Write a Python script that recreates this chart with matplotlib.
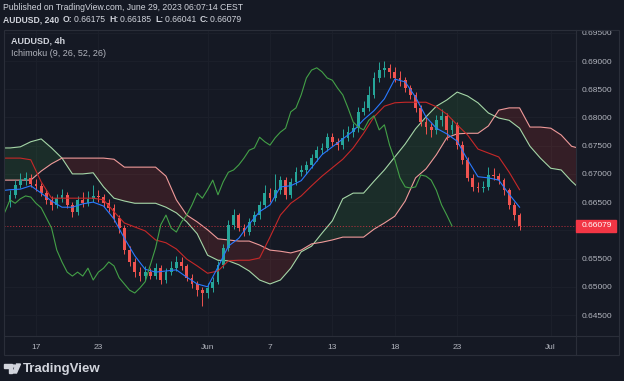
import numpy as np
import pandas as pd
import matplotlib
matplotlib.use('Agg')
import matplotlib.pyplot as plt
from matplotlib.patches import Rectangle, Polygon, Circle
from matplotlib.transforms import Bbox, TransformedBbox

# Размер картинки в пикселях
W, H = 624, 381

# AUDUSD, 8-часовые свечи (по 2 бара 4h), с 15 мая 2023 08:00
opens = [0.6650, 0.6663, 0.6680, 0.6689, 0.6693, 0.6682, 0.6679, 0.6666, 0.6654, 0.6645,
         0.6657, 0.6663, 0.6645, 0.6632, 0.6654, 0.6648, 0.6656, 0.6661, 0.6659, 0.6648,
         0.6640, 0.6622, 0.6604, 0.6565, 0.6544, 0.6526, 0.6519, 0.6526, 0.6519, 0.6533,
         0.6512, 0.6526, 0.6533, 0.6544, 0.6537, 0.6516, 0.6505, 0.6494, 0.6489, 0.6498,
         0.6509, 0.6539, 0.6569, 0.6610, 0.6627, 0.6604, 0.6597, 0.6615, 0.6627, 0.6645,
         0.6666, 0.6657, 0.6672, 0.6689, 0.6663, 0.6686, 0.6703, 0.6707, 0.6716, 0.6728,
         0.6742, 0.6746, 0.6765, 0.6757, 0.6751, 0.6764, 0.6774, 0.6781, 0.6810, 0.6817,
         0.6840, 0.6870, 0.6884, 0.6888, 0.6881, 0.6870, 0.6866, 0.6852, 0.6840, 0.6817,
         0.6792, 0.6783, 0.6778, 0.6795, 0.6803, 0.6778, 0.6787, 0.6751, 0.6725, 0.6693,
         0.6677, 0.6675, 0.6677, 0.6698, 0.6696, 0.6689, 0.6671, 0.6645, 0.6627]
highs = [0.6672, 0.6690, 0.6702, 0.6703, 0.6699, 0.6691, 0.6684, 0.6672, 0.6660, 0.6665,
         0.6674, 0.6668, 0.6650, 0.6661, 0.6668, 0.6670, 0.6680, 0.6672, 0.6665, 0.6655,
         0.6646, 0.6628, 0.6610, 0.6572, 0.6551, 0.6535, 0.6536, 0.6533, 0.6542, 0.6538,
         0.6534, 0.6545, 0.6555, 0.6552, 0.6541, 0.6522, 0.6510, 0.6500, 0.6506, 0.6517,
         0.6545, 0.6575, 0.6618, 0.6637, 0.6630, 0.6612, 0.6622, 0.6634, 0.6652, 0.6680,
         0.6675, 0.6700, 0.6696, 0.6694, 0.6693, 0.6712, 0.6716, 0.6722, 0.6735, 0.6750,
         0.6755, 0.6773, 0.6772, 0.6763, 0.6780, 0.6785, 0.6790, 0.6818, 0.6830, 0.6855,
         0.6880, 0.6899, 0.6900, 0.6895, 0.6890, 0.6882, 0.6872, 0.6858, 0.6846, 0.6822,
         0.6800, 0.6790, 0.6805, 0.6815, 0.6808, 0.6798, 0.6792, 0.6758, 0.6730, 0.6700,
         0.6685, 0.6688, 0.6712, 0.6710, 0.6702, 0.6693, 0.6675, 0.6650, 0.6630]
lows = [0.6641, 0.6658, 0.6675, 0.6681, 0.6676, 0.6670, 0.6660, 0.6647, 0.6636, 0.6640,
        0.6650, 0.6640, 0.6624, 0.6628, 0.6642, 0.6644, 0.6650, 0.6651, 0.6641, 0.6632,
        0.6615, 0.6596, 0.6558, 0.6537, 0.6518, 0.6510, 0.6512, 0.6513, 0.6514, 0.6505,
        0.6507, 0.6520, 0.6528, 0.6530, 0.6510, 0.6497, 0.6484, 0.6466, 0.6480, 0.6490,
        0.6505, 0.6533, 0.6563, 0.6603, 0.6598, 0.6590, 0.6592, 0.6610, 0.6620, 0.6640,
        0.6650, 0.6652, 0.6665, 0.6655, 0.6658, 0.6680, 0.6696, 0.6700, 0.6710, 0.6722,
        0.6735, 0.6740, 0.6750, 0.6742, 0.6745, 0.6758, 0.6765, 0.6775, 0.6805, 0.6812,
        0.6835, 0.6862, 0.6872, 0.6870, 0.6862, 0.6855, 0.6845, 0.6832, 0.6810, 0.6785,
        0.6770, 0.6765, 0.6770, 0.6785, 0.6760, 0.6770, 0.6745, 0.6718, 0.6688, 0.6670,
        0.6668, 0.6668, 0.6672, 0.6690, 0.6682, 0.6662, 0.6638, 0.6618, 0.6601]
closes = [0.6663, 0.6680, 0.6689, 0.6693, 0.6682, 0.6679, 0.6666, 0.6654, 0.6645, 0.6657,
          0.6663, 0.6645, 0.6632, 0.6654, 0.6648, 0.6656, 0.6661, 0.6659, 0.6648, 0.6640,
          0.6622, 0.6604, 0.6565, 0.6544, 0.6526, 0.6519, 0.6526, 0.6519, 0.6533, 0.6512,
          0.6526, 0.6533, 0.6544, 0.6537, 0.6516, 0.6505, 0.6494, 0.6489, 0.6498, 0.6509,
          0.6539, 0.6569, 0.6610, 0.6627, 0.6604, 0.6597, 0.6615, 0.6627, 0.6645, 0.6666,
          0.6657, 0.6672, 0.6689, 0.6663, 0.6686, 0.6703, 0.6707, 0.6716, 0.6728, 0.6742,
          0.6746, 0.6765, 0.6757, 0.6751, 0.6764, 0.6774, 0.6781, 0.6810, 0.6817, 0.6840,
          0.6870, 0.6884, 0.6888, 0.6881, 0.6870, 0.6866, 0.6852, 0.6840, 0.6817, 0.6792,
          0.6783, 0.6778, 0.6795, 0.6803, 0.6778, 0.6787, 0.6751, 0.6725, 0.6693, 0.6677,
          0.6675, 0.6677, 0.6698, 0.6696, 0.6689, 0.6671, 0.6645, 0.6627, 0.66079]

# Ишимоку, значения через каждые 2 свечи, начиная с -2
tenkan = [0.6670, 0.6672, 0.6673, 0.6679, 0.6666, 0.6652, 0.6641, 0.6641, 0.6647, 0.6650,
          0.6643, 0.6620, 0.6586, 0.6555, 0.6531, 0.6526, 0.6528, 0.6530, 0.6517, 0.6505,
          0.6500, 0.6535, 0.6572, 0.6586, 0.6611, 0.6633, 0.6645, 0.6677, 0.6679, 0.6688,
          0.6711, 0.6734, 0.6748, 0.6762, 0.6776, 0.6796, 0.6812, 0.6833, 0.6868, 0.6863,
          0.6836, 0.6801, 0.6781, 0.6771, 0.6758, 0.6725, 0.6695, 0.6693, 0.6689, 0.6664,
          0.6641]
kijun = [0.6728, 0.6728, 0.6728, 0.6725, 0.6686, 0.6657, 0.6657, 0.6657, 0.6657, 0.6657,
         0.6654, 0.6633, 0.6613, 0.6606, 0.6599, 0.6583, 0.6578, 0.6567, 0.6549, 0.6537,
         0.6524, 0.6528, 0.6546, 0.6547, 0.6547, 0.6551, 0.6588, 0.6627, 0.6648, 0.6661,
         0.6679, 0.6696, 0.6711, 0.6726, 0.6746, 0.6772, 0.6801, 0.6820, 0.6826, 0.6827,
         0.6827, 0.6827, 0.6819, 0.6806, 0.6787, 0.6769, 0.6744, 0.6737, 0.6730, 0.6703,
         0.6672]
span_a = [0.6746, 0.6746, 0.6748, 0.6757, 0.6762, 0.6746, 0.6728, 0.6700, 0.6700, 0.6702,
          0.6677, 0.6657, 0.6652, 0.6648, 0.6648, 0.6648, 0.6641, 0.6631, 0.6615, 0.6594,
          0.6556, 0.6547, 0.6546, 0.6539, 0.6528, 0.6512, 0.6505, 0.6512, 0.6533, 0.6562,
          0.6572, 0.6595, 0.6617, 0.6656, 0.6666, 0.6666, 0.6687, 0.6707, 0.6730, 0.6753,
          0.6780, 0.6801, 0.6820, 0.6831, 0.6845, 0.6838, 0.6826, 0.6808, 0.6799, 0.6795,
          0.6781, 0.6749, 0.6728, 0.6710, 0.6707, 0.6687, 0.6670, 0.6663]
span_b = [0.6689, 0.6689, 0.6689, 0.6689, 0.6705, 0.6718, 0.6728, 0.6728, 0.6728, 0.6728,
          0.6728, 0.6726, 0.6712, 0.6712, 0.6712, 0.6712, 0.6696, 0.6654, 0.6627, 0.6615,
          0.6601, 0.6585, 0.6583, 0.6581, 0.6581, 0.6574, 0.6565, 0.6563, 0.6560, 0.6565,
          0.6576, 0.6579, 0.6583, 0.6588, 0.6588, 0.6588, 0.6602, 0.6613, 0.6625, 0.6652,
          0.6693, 0.6709, 0.6734, 0.6764, 0.6771, 0.6772, 0.6772, 0.6785, 0.6813, 0.6817,
          0.6817, 0.6783, 0.6783, 0.6781, 0.6769, 0.6749, 0.6744, 0.6742]

last_ohlc = [('O', '0.66175'), ('H', '0.66185'), ('L', '0.66041'), ('C', '0.66079')]
last_price = 0.66079
lag = 13  # 26 баров по 4h = 13 свечей по 8h

# Подписи дат: торговые дни и их подписи
tick_days = ['2023-05-17', '2023-05-23', '2023-06-01', '2023-06-07',
             '2023-06-13', '2023-06-19', '2023-06-23', '2023-07-03']
tick_labels = ['17', '23', 'Jun', '7', '13', '18', '23', 'Jul']
price_ticks = [0.645, 0.650, 0.655, 0.660, 0.665, 0.670, 0.675, 0.680, 0.685, 0.690, 0.695]

# Цвета
bg = '#151924'
grid = '#1c202b'
border = '#2a2e39'
text_col = '#d1d4dc'
axis_text = '#b2b5be'
up_col = '#26a69a'
down_col = '#ef5350'

plt.rcParams['font.family'] = ['Liberation Sans', 'DejaVu Sans']

fig = plt.figure(figsize=(W / 100, H / 100), dpi=100, facecolor=bg)


def fx(px):
    return px / W


def fy(py):
    return 1 - py / H


ax = fig.add_axes([fx(4), fy(336), fx(576) - fx(4), fy(30) - fy(336)])
ax.set_facecolor(bg)
ax.set_xlim(-1.15, 108.85)
ax.set_ylim(0.64128, 0.69550)
for s in ax.spines.values():
    s.set_visible(False)

# Сетка
days = pd.bdate_range('2023-05-15', '2023-07-07')
tick_pos = [3 * days.get_loc(pd.Timestamp(d)) - 1 for d in tick_days]
ax.set_xticks(tick_pos)
ax.set_xticklabels(tick_labels)
ax.set_yticks(price_ticks)
ax.set_yticklabels([f'{p:.5f}' for p in price_ticks])
ax.yaxis.tick_right()
ax.tick_params(axis='x', length=0, pad=5.5, labelsize=6, labelcolor=axis_text)
ax.tick_params(axis='y', length=0, pad=4.3, labelsize=6, labelcolor=axis_text)
ax.grid(True, color=grid, lw=0.7)
ax.set_axisbelow(True)

# Облако
t_span = np.arange(-2, 2 * len(span_a) - 2, 2)
a = np.array(span_a)
b = np.array(span_b)
ax.fill_between(t_span, a, b, where=a >= b, interpolate=True, color='#43a047', alpha=0.15, lw=0)
ax.fill_between(t_span, a, b, where=a < b, interpolate=True, color='#f44336', alpha=0.14, lw=0)
ax.plot(t_span, a, color='#a5d6a7', lw=0.8)
ax.plot(t_span, b, color='#ef9a9a', lw=0.8)

# Свечи
x = np.arange(len(closes))
o = np.array(opens)
c = np.array(closes)
colors = np.where(c >= o, up_col, down_col)
ax.vlines(x, lows, highs, colors=colors, lw=0.7, zorder=3)
body = np.maximum(np.abs(c - o), 0.00008)
ax.bar(x, body, bottom=np.minimum(o, c), width=0.55, color=colors, lw=0, zorder=3)

# Линии
t_line = np.arange(-2, 2 * len(tenkan) - 2, 2)
ax.plot(t_line, kijun, color='#c62828', lw=0.8, zorder=4)
ax.plot(t_line, tenkan, color='#2979ff', lw=0.8, zorder=4)
ax.plot(x - lag, closes, color='#43a047', lw=0.8, zorder=4)

# Текущая цена
ax.axhline(last_price, color='#f23645', lw=0.7, ls=(0, (1, 2)), alpha=0.8, zorder=2)

# Рамка панели
fig.patches.append(Rectangle((fx(4), fy(355)), fx(619) - fx(4), fy(30) - fy(355),
                             transform=fig.transFigure, fill=False, ec=border, lw=0.8))
fig.lines.append(plt.Line2D([fx(4), fx(619)], [fy(336), fy(336)], transform=fig.transFigure,
                            color=border, lw=0.8))
fig.lines.append(plt.Line2D([fx(576), fx(576)], [fy(30), fy(355)], transform=fig.transFigure,
                            color=border, lw=0.8))

# Обрезка верхней метки цены по рамке
panel = TransformedBbox(Bbox([[fx(4), fy(355)], [fx(619), fy(30)]]), fig.transFigure)
for tick in ax.yaxis.get_major_ticks():
    tick.label2.set_clip_box(panel)
    tick.label2.set_clip_on(True)

# Метка последней цены
y_last = ax.transData.transform((0, last_price))[1] / fig.bbox.height
fig.patches.append(Rectangle((fx(576), y_last - 5.8 / H), fx(616) - fx(576), 11.6 / H,
                             transform=fig.transFigure, color='#f23645', zorder=5))
fig.text(fx(582), y_last, f'{last_price:.5f}', color='white', fontsize=6,
         va='center', ha='left', zorder=6)

# Заголовок
fig.text(fx(3), fy(7), 'Published on TradingView.com, June 29, 2023 06:07:14 CEST',
         color=text_col, fontsize=6.2, va='center')
renderer = fig.canvas.get_renderer()
xpos = fx(3)
parts = [('AUDUSD, 240 ', 'bold')]
for k, v in last_ohlc:
    parts.append((k + ':', 'bold'))
    parts.append((v + ' ', 'normal'))
for s, wgt in parts:
    t = fig.text(xpos, fy(20), s, color=text_col, fontsize=6.2, fontweight=wgt, va='center')
    xpos = t.get_window_extent(renderer).x1 / fig.bbox.width + 1.5 / W

# Легенда
fig.text(fx(11), fy(41), 'AUDUSD, 4h', color=text_col, fontsize=6.5, fontweight='bold', va='center')
fig.text(fx(11), fy(53), 'Ichimoku (9, 26, 52, 26)', color=axis_text, fontsize=6.5, va='center')

# Логотип
logo = '#d1d4dc'
fig.patches.append(Polygon([(fx(4), fy(364)), (fx(12), fy(364)), (fx(12), fy(373)),
                            (fx(8.5), fy(373)), (fx(8.5), fy(367.5)), (fx(4), fy(367.5))],
                           closed=True, transform=fig.transFigure, color=logo))
fig.patches.append(Circle((fx(14), fy(366)), 1.6 / W, transform=fig.transFigure, color=logo))
fig.patches.append(Polygon([(fx(16.5), fy(364)), (fx(20.5), fy(364)), (fx(16.5), fy(373)),
                            (fx(12.5), fy(373))],
                           closed=True, transform=fig.transFigure, color=logo))
fig.text(fx(23), fy(369), 'TradingView', color=logo, fontsize=9.5, fontweight='bold', va='center')

fig.savefig('out.png', dpi=100, facecolor=bg)
